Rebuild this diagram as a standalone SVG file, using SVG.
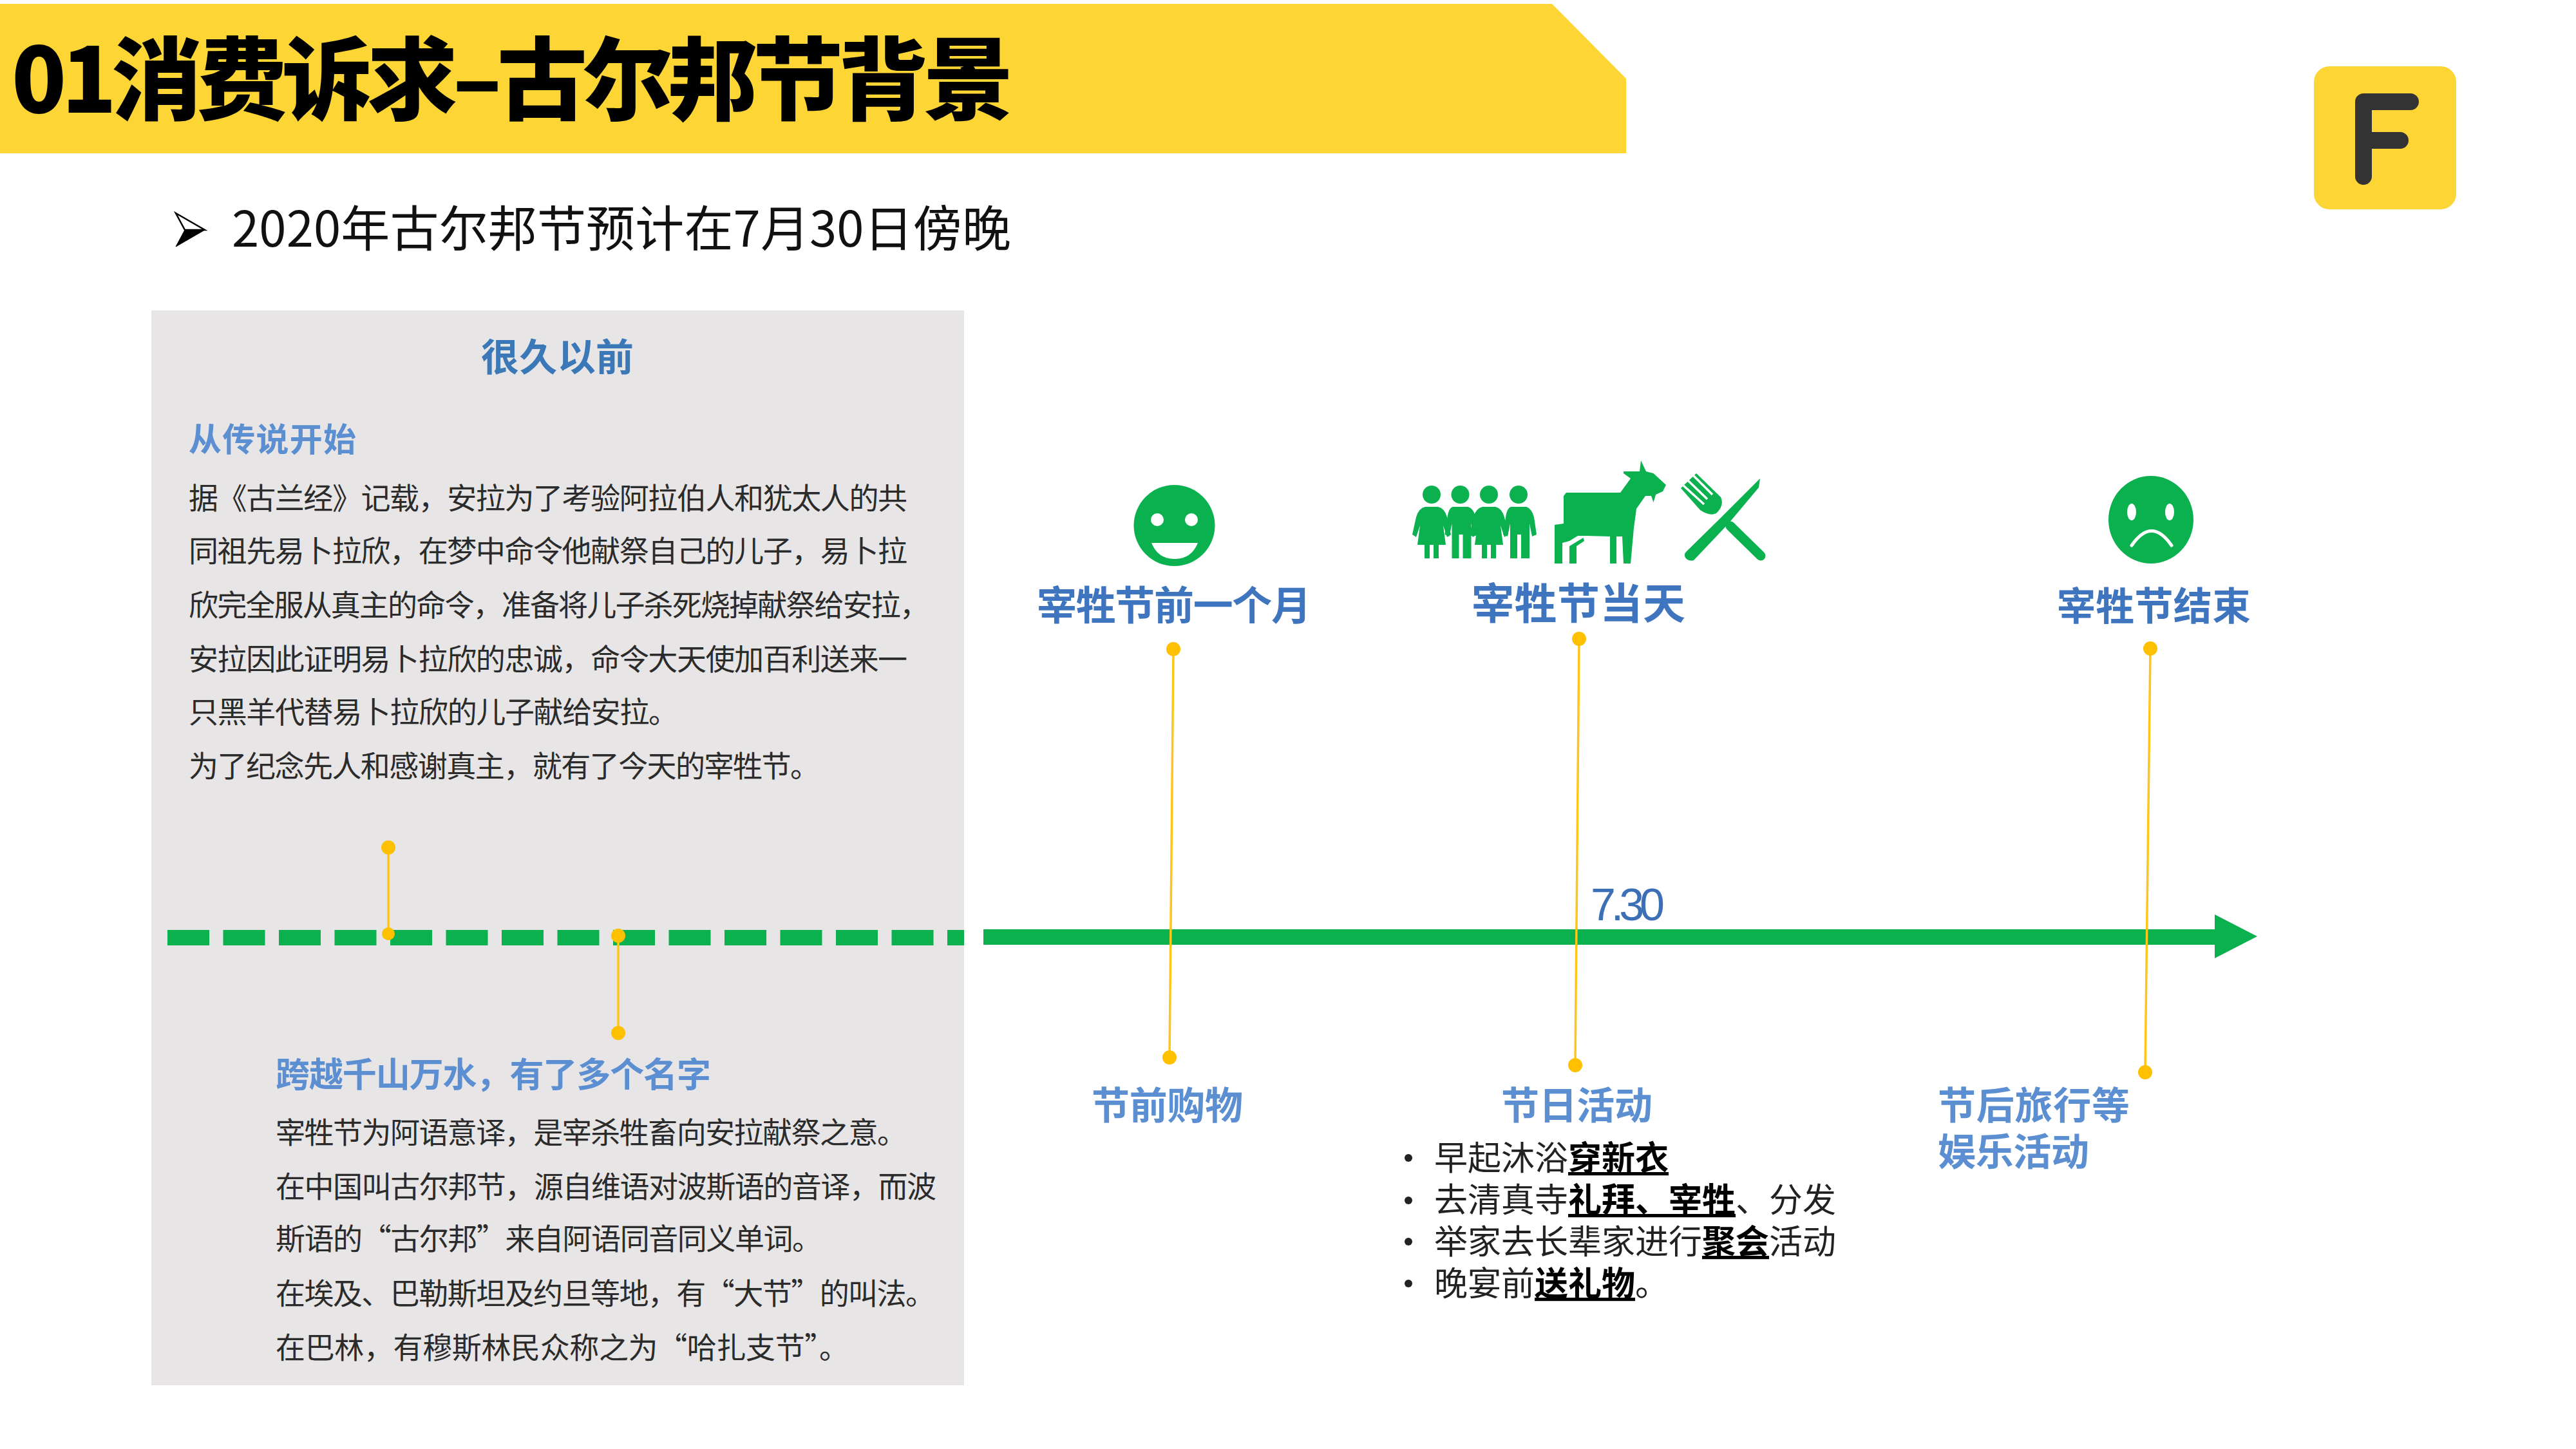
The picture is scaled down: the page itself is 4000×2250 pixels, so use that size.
<svg xmlns="http://www.w3.org/2000/svg" xmlns:xlink="http://www.w3.org/1999/xlink" width="4000" height="2250" viewBox="0 0 4000 2250">
<style>
text{font-family:"Noto Sans CJK SC","Noto Sans",sans-serif}
.b{font-weight:700;fill:#3f74bf}
.lt{fill:#5b8fd2;font-weight:700}
.body{font-size:46px;fill:#2b2b2b}
.list{font-size:52px;fill:#222}
.list tspan{font-weight:700;fill:#000;text-decoration:underline}
.stem{stroke:#ffc61a;stroke-width:3.5;fill:none}
.dot{fill:#ffc000}
.g{fill:#0bb04f}
.w{fill:none;stroke:#fff;stroke-width:5;stroke-linecap:round}
</style>
<defs>
<g id="woman"><circle cx="0" cy="0" r="14"/><path d="M-10 19H10Q20 21 24 35L30 62 24 66 18 48 22 78H11V99H3V78H-3V99H-11V78H-22L-18 48-24 66-30 62-24 35Q-20 21-10 19Z"/></g>
<g id="man"><circle cx="0" cy="0" r="14"/><path d="M-12 19H12Q20 21 24 35L28 62 21 65 17 45V99H4V62H-2V99H-13V45L-17 65-24 62-20 35Q-18 21-12 19Z"/></g>
</defs>
<rect width="4000" height="2250" fill="#fff"/>
<g id="header">
<path d="M0 6H2410L2525 122V238H0Z" fill="#fdd535"/>
<text x="18" y="175" font-size="140" font-weight="900" fill="#000" textLength="1556" lengthAdjust="spacing">01消费诉求–古尔邦节背景</text>
</g>
<g id="logo">
<rect x="3593" y="103" width="221" height="222" rx="24" fill="#fdd535"/>
<path d="M3670 274V158H3743M3670 218H3727" fill="none" stroke="#333" stroke-width="26" stroke-linecap="round" stroke-linejoin="round"/>
</g>
<g id="subtitle">
<path d="M273 331L318 357H287Z" fill="#fff" stroke="#000" stroke-width="2.5"/>
<path d="M273 383L287 357H318Z" fill="#000" stroke="#000" stroke-width="1"/>
<text x="360" y="383" font-size="76" fill="#111" textLength="1210" lengthAdjust="spacing">2020年古尔邦节预计在7月30日傍晚</text>
</g>
<g id="panel-past">
<rect x="235" y="482" width="1262" height="1669" fill="#e7e5e5"/>
<text x="747" y="576" font-size="59" class="b" textLength="237" style="fill:#3a78b8">很久以前</text>
<text x="293" y="701" font-size="51" class="lt" textLength="260">从传说开始</text>
<text x="293" y="790" class="body" textLength="1116">据《古兰经》记载，安拉为了考验阿拉伯人和犹太人的共</text>
<text x="293" y="872" class="body" textLength="1116">同祖先易卜拉欣，在梦中命令他献祭自己的儿子，易卜拉</text>
<text x="293" y="956" class="body" textLength="1150">欣完全服从真主的命令，准备将儿子杀死烧掉献祭给安拉，</text>
<text x="293" y="1040" class="body" textLength="1116">安拉因此证明易卜拉欣的忠诚，命令大天使加百利送来一</text>
<text x="293" y="1122" class="body" textLength="760">只黑羊代替易卜拉欣的儿子献给安拉。</text>
<text x="293" y="1206" class="body" textLength="980">为了纪念先人和感谢真主，就有了今天的宰牲节。</text>
<text x="428" y="1688" font-size="53" class="lt" textLength="676">跨越千山万水，有了多个名字</text>
<text x="428" y="1775" class="body" textLength="980">宰牲节为阿语意译，是宰杀牲畜向安拉献祭之意。</text>
<text x="428" y="1859" class="body" textLength="1026">在中国叫古尔邦节，源自维语对波斯语的音译，而波</text>
<text x="428" y="1940" class="body" textLength="848">斯语的“古尔邦”来自阿语同音同义单词。</text>
<text x="428" y="2025" class="body" textLength="1024">在埃及、巴勒斯坦及约旦等地，有“大节”的叫法。</text>
<text x="428" y="2109" class="body" textLength="890">在巴林，有穆斯林民众称之为“哈扎支节”。</text>
</g>
<g id="connectors">
<line x1="260" y1="1456" x2="1497" y2="1456" stroke="#0bb04f" stroke-width="24" stroke-dasharray="65 21.5"/>
<path d="M1527 1443H3439V1420L3505 1454 3439 1488V1467H1527Z" fill="#0bb04f"/>
<line class="stem" x1="603" y1="1316" x2="603" y2="1450"/>
<line class="stem" x1="960" y1="1453" x2="960" y2="1604"/>
<line class="stem" x1="1822" y1="1008" x2="1816" y2="1642"/>
<line class="stem" x1="2452" y1="992" x2="2446" y2="1654"/>
<line class="stem" x1="3339" y1="1007" x2="3331" y2="1665"/>
<circle class="dot" cx="603" cy="1316" r="11"/><circle class="dot" cx="603" cy="1450" r="10"/>
<circle class="dot" cx="960" cy="1453" r="11"/><circle class="dot" cx="960" cy="1604" r="11"/>
<circle class="dot" cx="1822" cy="1008" r="11"/><circle class="dot" cx="1816" cy="1642" r="11"/>
<circle class="dot" cx="2452" cy="992" r="11"/><circle class="dot" cx="2446" cy="1654" r="11"/>
<circle class="dot" cx="3339" cy="1007" r="11"/><circle class="dot" cx="3331" cy="1665" r="11"/>
</g>
<g id="node-month-before">
<circle class="g" cx="1823.5" cy="816" r="63"/>
<circle cx="1797" cy="807" r="10" fill="#fff"/><circle cx="1850" cy="807" r="10" fill="#fff"/>
<path d="M1788 843H1860Q1850 868 1824 868 1798 868 1788 843Z" fill="#fff"/>
<text x="1610" y="963" font-size="62" class="b" textLength="426">宰牲节前一个月</text>
<text x="1695" y="1738" font-size="59" class="lt" textLength="235">节前购物</text>
</g>
<g id="node-festival-day">
<g class="g">
<use xlink:href="#woman" href="#woman" x="2223" y="768"/>
<use xlink:href="#man" href="#man" x="2267.500" y="768"/>
<use xlink:href="#woman" href="#woman" x="2312" y="768"/>
<use xlink:href="#man" href="#man" x="2358" y="768"/>
<path d="M2548 715L2556 732 2567.500 735 2587 753 2582 763 2571 768 2567.500 780 2564 770H2555L2541 790 2537 820 2532 875H2521L2519 833H2510V875H2500V833L2462 832H2450L2437 840 2426 843V875H2414V815L2428 813V770L2432 765H2516L2532 743 2521 735V732H2546Z"/>
<path d="M2437 848L2458.500 835 2460 840 2448 848V875H2437Z"/>
<path d="M2733 743L2731 757 2684 813 2630 870Q2622 872 2617 866 2614 860 2619 856L2672 804Z"/>
<path d="M2634 735L2610 758 2640 792Q2655 802 2665 797 2678 785 2672 772Z"/>
<line x1="2687" y1="817" x2="2734" y2="863" stroke="#0bb04f" stroke-width="15" stroke-linecap="round"/>
</g>
<path d="M2629 738L2659 768M2621 746L2651 775M2614 754L2646 783" stroke="#fff" stroke-width="3.500" fill="none"/>
<text x="2285" y="961" font-size="66" class="b" textLength="332">宰牲节当天</text>
<text x="2331" y="1738" font-size="59" class="lt" textLength="235">节日活动</text>
<g fill="#222"><circle cx="2187" cy="1798" r="6"/><circle cx="2187" cy="1864" r="6"/><circle cx="2187" cy="1928" r="6"/><circle cx="2187" cy="1993" r="6"/></g>
<text x="2227" y="1817" class="list">早起沐浴<tspan>穿新衣</tspan></text>
<text x="2227" y="1882" class="list">去清真寺<tspan>礼拜、宰牲</tspan>、分发</text>
<text x="2227" y="1947" class="list">举家去长辈家进行<tspan>聚会</tspan>活动</text>
<text x="2227" y="2012" class="list">晚宴前<tspan>送礼物</tspan>。</text>
<text x="2470" y="1429" font-size="70" textLength="115" lengthAdjust="spacing" style="font-family:'Liberation Sans',sans-serif;fill:#3b6fb6">7.30</text>
</g>
<g id="node-festival-end">
<ellipse class="g" cx="3340" cy="807" rx="66" ry="68"/>
<ellipse cx="3310" cy="795" rx="7" ry="13" fill="#fff"/><ellipse cx="3369" cy="795" rx="7" ry="13" fill="#fff"/>
<path class="w" d="M3310 847Q3341 802 3372 847"/>
<text x="3194" y="963" font-size="60" class="b" textLength="301">宰牲节结束</text>
<text x="3009" y="1738" font-size="59" class="lt" textLength="298">节后旅行等</text>
<text x="3009" y="1810" font-size="59" class="lt" textLength="235">娱乐活动</text>
</g>
</svg>
